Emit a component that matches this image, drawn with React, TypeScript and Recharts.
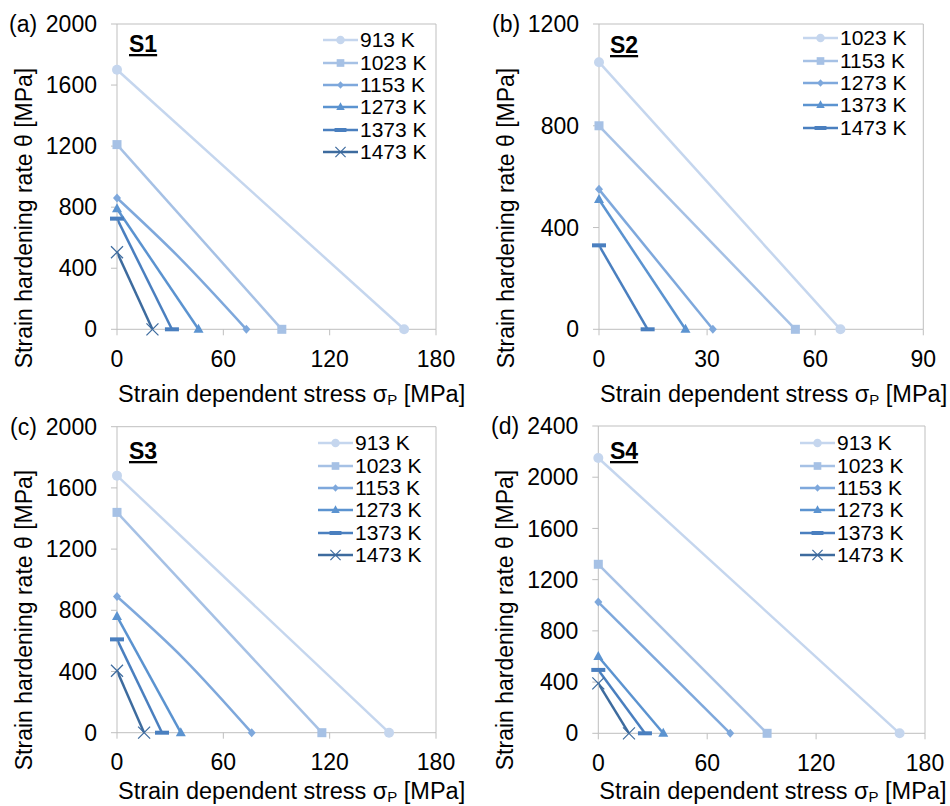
import React from 'react';
import { LineChart, Line, XAxis, YAxis, ReferenceLine, Legend } from 'recharts';

const FONT = '"Liberation Sans", Arial, sans-serif';
const AXIS_GRAY = '#BFBFBF';

// series styling by position (light -> dark)
const seriesColors = ['#C5D6EE', '#A6C1E5', '#7EA8DC', '#5B93D0', '#4A7FBF', '#3D6B9E'];
const markerShapes = ['circle', 'square', 'diamond', 'triangle', 'dash', 'cross'];

// S1
const s1Temps = ['913 K', '1023 K', '1153 K', '1273 K', '1373 K', '1473 K'];
const s1Theta0 = [1700, 1210, 860, 790, 725, 505]; // θ at σP = 0
const s1SigmaEnd = [162, 93, 73, 46, 31, 20]; // σP where θ = 0
const s1Bend = [null, null, [36, 460], null, null, null]; // extra point on curved line

// S2
const s2Temps = ['1023 K', '1153 K', '1273 K', '1373 K', '1473 K'];
const s2Theta0 = [1050, 800, 550, 510, 330];
const s2SigmaEnd = [67, 54.5, 31.6, 24, 13.5];
const s2Bend = [null, null, null, null, null];

// S3
const s3Temps = ['913 K', '1023 K', '1153 K', '1273 K', '1373 K', '1473 K'];
const s3Theta0 = [1680, 1440, 890, 760, 610, 405];
const s3SigmaEnd = [153.5, 115.6, 76, 36, 25.4, 15.3];
const s3Bend = [null, null, [38, 480], null, null, null];

// S4
const s4Temps = ['913 K', '1023 K', '1153 K', '1273 K', '1373 K', '1473 K'];
const s4Theta0 = [2150, 1320, 1025, 600, 495, 390];
const s4SigmaEnd = [166, 93, 72.7, 35.8, 25.7, 16.9];
const s4Bend = [null, null, null, null, null, null];

const xTicks180 = [0, 60, 120, 180];
const xTicks90 = [0, 30, 60, 90];
const yTicks2000 = [0, 400, 800, 1200, 1600, 2000];
const yTicks1200 = [0, 400, 800, 1200];
const yTicks2400 = [0, 400, 800, 1200, 1600, 2000, 2400];

function buildSeries(theta0: number[], sigmaEnd: number[], bend: any[]) {
  return theta0.map((t, i) => {
    const pts = [{ x: 0, y: t }];
    if (bend[i]) pts.push({ x: bend[i][0], y: bend[i][1] });
    pts.push({ x: sigmaEnd[i], y: 0 });
    return pts;
  });
}

function Marker({ shape, cx, cy, color, s = 1 }: any) {
  switch (shape) {
    case 'circle':
      return <circle cx={cx} cy={cy} r={5 * s} fill={color} />;
    case 'square':
      return <rect x={cx - 4.5 * s} y={cy - 4.5 * s} width={9 * s} height={9 * s} fill={color} />;
    case 'diamond':
      return (
        <polygon
          points={`${cx},${cy - 4.5 * s} ${cx + 4 * s},${cy} ${cx},${cy + 4.5 * s} ${cx - 4 * s},${cy}`}
          fill={color}
        />
      );
    case 'triangle':
      return (
        <polygon
          points={`${cx},${cy - 5.5 * s} ${cx + 5 * s},${cy + 3.5 * s} ${cx - 5 * s},${cy + 3.5 * s}`}
          fill={color}
        />
      );
    case 'dash':
      return <rect x={cx - 7 * s} y={cy - 2} width={14 * s} height={4} fill={color} />;
    default:
      return (
        <g stroke={color} strokeWidth={1.2}>
          <line x1={cx - 6 * s} y1={cy - 6 * s} x2={cx + 6 * s} y2={cy + 6 * s} />
          <line x1={cx - 6 * s} y1={cy + 6 * s} x2={cx + 6 * s} y2={cy - 6 * s} />
        </g>
      );
  }
}

const LegendBox = ({ temps }: { temps: string[] }) => (
  <div style={{ fontFamily: FONT, fontSize: 21, color: '#000' }}>
    {temps.map((t, i) => (
      <div key={t} style={{ display: 'flex', alignItems: 'center', height: 22.4 }}>
        <svg width={37} height={22} style={{ display: 'block' }}>
          <line x1={0} y1={11} x2={35} y2={11} stroke={seriesColors[i]} strokeWidth={2.5} />
          <Marker shape={markerShapes[i]} cx={17.5} cy={11} color={seriesColors[i]} s={0.85} />
        </svg>
        <span style={{ lineHeight: '22px', whiteSpace: 'nowrap' }}>{t}</span>
      </div>
    ))}
  </div>
);

const panels = [
  {
    tag: '(a)', name: 'S1', temps: s1Temps, series: buildSeries(s1Theta0, s1SigmaEnd, s1Bend),
    xTicks: xTicks180, yTicks: yTicks2000, left: 0, top: 0, height: 400,
    margin: { top: 24, right: 39, left: 57, bottom: 40.7 },
    legend: { left: 323, top: 29 }, titleY: 218, xTitleY: 402, tagX: 9, tagY: 32, nameX: 129, nameY: 52,
  },
  {
    tag: '(b)', name: 'S2', temps: s2Temps, series: buildSeries(s2Theta0, s2SigmaEnd, s2Bend),
    xTicks: xTicks90, yTicks: yTicks1200, left: 475, top: 0, height: 400,
    margin: { top: 24, right: 26.7, left: 64, bottom: 40.7 },
    legend: { left: 328, top: 27 }, titleY: 218, xTitleY: 402, tagX: 17, tagY: 32, nameX: 135, nameY: 53,
  },
  {
    tag: '(c)', name: 'S3', temps: s3Temps, series: buildSeries(s3Theta0, s3SigmaEnd, s3Bend),
    xTicks: xTicks180, yTicks: yTicks2000, left: 0, top: 400, height: 406,
    margin: { top: 26.7, right: 39, left: 57, bottom: 43.3 },
    legend: { left: 318, top: 32 }, titleY: 220, xTitleY: 399, tagX: 10, tagY: 35, nameX: 129, nameY: 59,
  },
  {
    tag: '(d)', name: 'S4', temps: s4Temps, series: buildSeries(s4Theta0, s4SigmaEnd, s4Bend),
    xTicks: xTicks180, yTicks: yTicks2400, left: 475, top: 400, height: 406,
    margin: { top: 26, right: 25, left: 63.3, bottom: 42.7 },
    legend: { left: 325, top: 32 }, titleY: 220, xTitleY: 399, tagX: 16, tagY: 34, nameX: 135, nameY: 59,
  },
];

const tickStyle = { fontSize: 23, fill: '#000', fontFamily: FONT };

const Panel = ({ p }: any) => {
  const xMax = p.xTicks[p.xTicks.length - 1];
  const yMax = p.yTicks[p.yTicks.length - 1];
  const plotLeft = p.margin.left + 60;
  return (
    <div style={{ position: 'absolute', left: p.left, top: p.top, width: 475, height: p.height }}>
      <LineChart width={475} height={p.height} margin={p.margin}>
        <XAxis
          type="number" dataKey="x" domain={[0, xMax]} ticks={p.xTicks} height={30}
          tick={tickStyle} tickSize={6} tickMargin={15}
          stroke={AXIS_GRAY} tickLine={{ stroke: AXIS_GRAY }}
        />
        <YAxis
          type="number" dataKey="y" domain={[0, yMax]} ticks={p.yTicks} width={60}
          tick={tickStyle} tickSize={6} tickMargin={14}
          stroke={AXIS_GRAY} tickLine={{ stroke: AXIS_GRAY }}
        />
        <ReferenceLine y={yMax} stroke={AXIS_GRAY} />
        <ReferenceLine x={xMax} stroke={AXIS_GRAY} />
        {p.series.map((pts: any[], i: number) => (
          <Line
            key={p.temps[i]}
            data={pts}
            dataKey="y"
            name={p.temps[i]}
            type="monotone"
            stroke={seriesColors[i]}
            strokeWidth={2.5}
            isAnimationActive={false}
            activeDot={false}
            dot={(d: any) =>
              d.index === 0 || d.index === pts.length - 1 ? (
                <Marker key={d.index} shape={markerShapes[i]} cx={d.cx} cy={d.cy} color={seriesColors[i]} />
              ) : (
                <g key={d.index} />
              )
            }
          />
        ))}
        <Legend
          layout="vertical" align="center" verticalAlign="middle"
          wrapperStyle={{ left: p.legend.left, top: p.legend.top, width: 130 }}
          content={() => <LegendBox temps={p.temps} />}
        />
      </LineChart>
      <svg
        width={475} height={p.height}
        style={{ position: 'absolute', left: 0, top: 0, overflow: 'visible', pointerEvents: 'none' }}
        fontFamily={FONT}
      >
        <text x={p.tagX} y={p.tagY} fontSize={23}>{p.tag}</text>
        <text x={p.nameX} y={p.nameY} fontSize={23} fontWeight="bold" textDecoration="underline">{p.name}</text>
        <text
          x={plotLeft - 93} y={p.titleY} fontSize={23} textAnchor="middle" dominantBaseline="central"
          transform={`rotate(-90 ${plotLeft - 93} ${p.titleY})`}
        >
          Strain hardening rate θ [MPa]
        </text>
        <text x={plotLeft + 1} y={p.xTitleY} fontSize={23.5} style={{ whiteSpace: 'pre' }}>
          Strain dependent stress σ<tspan fontSize={15} dy={3}>P</tspan><tspan dy={-3}> [MPa]</tspan>
        </text>
      </svg>
    </div>
  );
};

export default function App() {
  return (
    <div style={{ position: 'absolute', left: 0, top: 0, width: 950, height: 806, background: '#fff' }}>
      {panels.map((p) => (
        <Panel key={p.name} p={p} />
      ))}
    </div>
  );
}
